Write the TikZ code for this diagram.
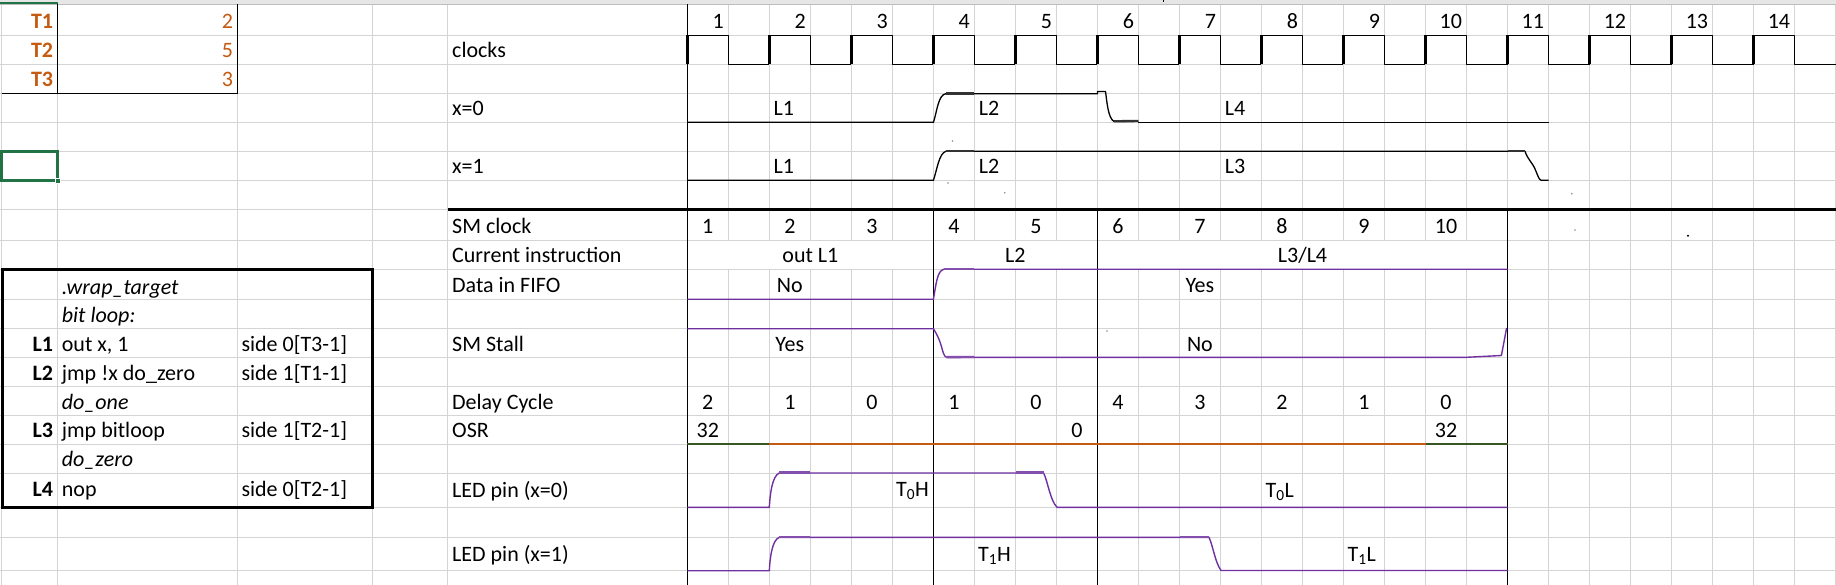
\documentclass[tikz,border=0pt]{standalone}
\usepackage{fontspec}
\setmainfont{Carlito}
\definecolor{gridc}{HTML}{D4D4D4}
\definecolor{hdrc}{HTML}{E6E6E6}
\definecolor{hdrl}{HTML}{BDBDBD}
\definecolor{purp}{HTML}{7030A0}
\definecolor{orng}{HTML}{C55A11}
\definecolor{dgrn}{HTML}{375623}
\definecolor{selg}{HTML}{217346}
\begin{document}
\begin{tikzpicture}[x=1pt,y=-1pt,
  grid/.style={draw=gridc, line width=1pt},
  blk/.style={draw=black, line width=1.2pt},
  wave/.style={draw=black, line width=1.3pt, line join=round},
  wthick/.style={draw=black!80, line width=2.4pt},
  clkrise/.style={draw=black, line width=3pt},
  pwave/.style={draw=purp, line width=1.4pt, line join=round},
  pthick/.style={draw=purp!85, line width=2.4pt},
  txt/.style={inner sep=0pt, font=\fontsize{22}{26}\selectfont},
  lt/.style={txt, anchor=base west},
  rt/.style={txt, anchor=base east},
  ct/.style={txt, anchor=base},
  dot/.style={fill=black!45},
]
\useasboundingbox (0,0) rectangle (1836,585);
\fill[white] (0,0) rectangle (1836,585);

% ---------- gridlines ----------
\foreach \xx in {1.7,57.7,237.7,372.3,447.5}
  \draw[grid] (\xx,4.3) -- (\xx,585);
\foreach \c in {0,...,28}
  \draw[grid] ({687.3+41.01*\c},4.3) -- ({687.3+41.01*\c},585);
\foreach \yy in {35.3,64.3,93.7,122.3,151.3,180.3,210,240.3,269.3,299.3,328.7,357.3,386.3,415.3,444.3,473.3,507.3,537.3,570.7}
  \draw[grid] (0,\yy) -- (1836,\yy);

% header band
\fill[hdrc] (0,0) rectangle (1836,4.3);
\draw[hdrl, line width=1pt] (0,4.3) -- (1836,4.3);
\draw[selg, line width=2pt] (0,3.4) -- (58,3.4);
\draw[black, line width=1pt] (1163,0) -- (1163,2.5);

% merged cells (Current instruction)
\fill[white] (687.9,240.9) rectangle (932.8,268.7);
\fill[white] (934.0,240.9) rectangle (1096.8,268.7);
\fill[white] (1098.0,240.9) rectangle (1506.9,268.7);

% ---------- black borders ----------
\draw[blk] (57.7,4.3) -- (57.7,93.7);
\draw[blk] (237.7,4.3) -- (237.7,93.7);
\draw[blk] (1.7,93.7) -- (237.7,93.7);
\draw[black, line width=2.6pt] (2.3,269.3) rectangle (372.3,507.3);
\draw[blk] (687.3,4.3) -- (687.3,585);
\draw[blk] (933.4,210) -- (933.4,585);
\draw[blk] (1097.4,210) -- (1097.4,585);
\draw[blk] (1507.5,210) -- (1507.5,585);
\draw[black, line width=3pt] (447.5,210) -- (1836,210);

% ---------- clock waveform ----------
\foreach \k in {0,...,13}{
  \draw[wave] ({687.3+82.02*\k},35.3) -- ({728.31+82.02*\k},35.3) -- ({728.31+82.02*\k},64.3) -- ({769.32+82.02*\k},64.3);
  \draw[clkrise] ({687.3+82.02*\k},64.3) -- ({687.3+82.02*\k},35.3);
}

% ---------- x=0 ----------
\draw[wave] (687.3,122.3) -- (933.4,122.3)
  .. controls (937,112) and (938,95) .. (945.8,93.7) -- (1097.4,93.7)
  -- (1097.4,91.5) -- (1105.5,91.5)
  .. controls (1107,102) and (1108,118) .. (1114,121.5) -- (1138.4,121.2);
\draw[wave] (1138.4,122.3) -- (1548.5,122.3);
\draw[wthick] (945.8,93.5) -- (974.4,93.5);
\draw[wthick] (1114,121.3) -- (1138.4,121);

% ---------- x=1 ----------
\draw[wave] (687.3,180.3) -- (933.4,180.3)
  .. controls (937,170) and (939,153) .. (946,151.3) -- (1525,151.3)
  .. controls (1528,160) and (1532,162) .. (1535,169)
  .. controls (1538,176) and (1539,180) .. (1541.3,180.3) -- (1548.5,180.3);
\draw[wthick] (946,151.1) -- (974.4,151.1);
\draw[wthick] (1507.5,151.1) -- (1525,151.1);

% stray dots
\foreach \p in {(952.5,141),(948,183),(1004.7,192.7),(1571.8,193.7),(1107,331),(1575,230)}
  \fill[dot] \p circle (0.9);
\fill[black] (1688,235.7) circle (1.1);

% ---------- purple signals ----------
% Data in FIFO
\draw[pwave] (687.3,299.3) -- (933.4,299.3)
  .. controls (936,285) and (937,271) .. (943.6,269.3) -- (1507.5,269.3);
\draw[pthick] (943.6,269) -- (974.4,269);
% SM Stall
\draw[pwave] (687.3,328.7) -- (933.4,328.7)
  .. controls (936,333) and (939,338) .. (941,345)
  .. controls (943,352) and (944,357) .. (946.7,357.3) -- (1466.5,357.3)
  -- (1501.4,355.5) -- (1506.6,328);
\draw[pthick] (946.7,357.1) -- (974.4,357);
% LED pin x=0
\draw[pwave] (687.3,507.3) -- (769.3,507.3)
  .. controls (770,495) and (772,476) .. (779.3,473.0) -- (1043.6,473.0)
  .. controls (1048,482) and (1050,500) .. (1057,507.3) -- (1507.5,507.3);
\draw[pthick] (779.3,472.6) -- (809.6,472.6);
\draw[pthick] (1015.9,472.6) -- (1043.6,472.6);
% LED pin x=1
\draw[pwave] (687.3,570.7) -- (769.3,570.7)
  .. controls (770,558) and (772,540) .. (779.3,537.3) -- (1209,537.3)
  .. controls (1213,546) and (1215,562) .. (1221,570.5) -- (1507.5,570.5);
\draw[pthick] (779.3,536.9) -- (809.6,536.9);
\draw[pthick] (1179.8,536.9) -- (1209,536.9);

% OSR line
\draw[dgrn, line width=2.2pt] (687.3,444.3) -- (769.3,444.3);
\draw[orng, line width=2.2pt] (769.3,444.3) -- (1425.5,444.3);
\draw[dgrn, line width=2.2pt] (1425.5,444.3) -- (1507.5,444.3);

% ---------- T table ----------
\node[rt, text=orng, font=\fontsize{22}{26}\selectfont\bfseries] (t1) at (53.3,28.7) {T1};
\node[rt, text=orng, font=\fontsize{22}{26}\selectfont\bfseries] (t2) at (53.3,57.5) {T2};
\node[rt, text=orng, font=\fontsize{22}{26}\selectfont\bfseries] (t3) at (53.3,86.3) {T3};
\node[rt, text=orng] (v1) at (233.3,28.7) {2};
\node[rt, text=orng] (v2) at (233.3,57.5) {5};
\node[rt, text=orng] (v3) at (233.3,86.3) {3};

% selected cell
\draw[selg, line width=2.5pt] (1.5,151.3) rectangle (57.7,180.3);
\fill[white] (55.2,177.8) rectangle (61.2,183.8);
\fill[selg] (56,178.6) rectangle (60.4,183);

% ---------- row labels ----------
\node[lt] (lclk) at (452,57.5) {clocks};
\node[lt] (lx0) at (452,115.5) {x=0};
\node[lt] (lx1) at (452,174) {x=1};
\node[lt] (lsm) at (452,234) {SM clock};
\node[lt] (lci) at (452,263) {Current instruction};
\node[lt] (lff) at (452,292.7) {Data in FIFO};
\node[lt] (lst) at (452,351) {SM Stall};
\node[lt] (ldc) at (452,409) {Delay Cycle};
\node[lt] (losr) at (452,437.5) {OSR};
\node[lt] (led0) at (452,497) {LED pin (x=0)};
\node[lt] (led1) at (452,561) {LED pin (x=1)};

% clock numbers
\foreach \k in {1,...,14}
  \node[rt] (cn\k) at ({687.3+41.01*(2*\k-1)-4.3},28.7) {\k};

% waveform labels
\node[lt] (a1) at (773.5,115.5) {L1};
\node[lt] (a2) at (978.6,115.5) {L2};
\node[lt] (a4) at (1224.6,115.5) {L4};
\node[lt] (b1) at (773.5,174) {L1};
\node[lt] (b2) at (978.6,174) {L2};
\node[lt] (b3) at (1224.6,174) {L3};

% SM clock numbers
\foreach \k in {1,...,10}
  \node[ct] (sm\k) at ({687.3+41.01*(2*\k-2)+20.5},234) {\k};
% current instruction
\node[ct] (ci1) at (810.4,263) {out L1};
\node[ct] (ci2) at (1015.4,263) {L2};
\node[ct] (ci3) at (1302.5,263) {L3/L4};
% FIFO / stall
\node[ct] (ffno) at (789.8,292.7) {No};
\node[ct] (ffyes) at (1199.9,292.7) {Yes};
\node[ct] (styes) at (789.8,351) {Yes};
\node[ct] (stno) at (1199.9,351) {No};
% delay cycle
\foreach \v [count=\i] in {2,1,0,1,0,4,3,2,1,0}
  \node[ct] (dc\i) at ({687.3+41.01*(2*\i-2)+20.5},409) {\v};
% OSR
\node[ct] (o1) at (707.8,437.5) {32};
\node[ct] (o2) at (1076.9,437.5) {0};
\node[ct] (o3) at (1446,437.5) {32};
% LED labels
\node[lt] (t0h) at (896,496.5) {T\textsubscript{0}H};
\node[lt] (t0l) at (1265.4,497) {T\textsubscript{0}L};
\node[lt] (t1h) at (978,561.5) {T\textsubscript{1}H};
\node[lt] (t1l) at (1347.4,561.5) {T\textsubscript{1}L};

% ---------- code table ----------
\node[lt, font=\fontsize{22}{26}\selectfont\itshape] (c1) at (61.7,294.3) {.wrap\_target};
\node[lt, font=\fontsize{22}{26}\selectfont\itshape] (c2) at (61.7,322.7) {bit loop:};
\node[rt, font=\fontsize{22}{26}\selectfont\bfseries] (n1) at (53.3,351.7) {L1};
\node[lt] (c3) at (61.7,351.7) {out x, 1};
\node[lt] (s1) at (241.3,351.7) {side 0[T3-1]};
\node[rt, font=\fontsize{22}{26}\selectfont\bfseries] (n2) at (53.3,380.3) {L2};
\node[lt] (c4) at (61.7,380.3) {jmp !x do\_zero};
\node[lt] (s2) at (241.3,380.3) {side 1[T1-1]};
\node[lt, font=\fontsize{22}{26}\selectfont\itshape] (c5) at (61.7,409.3) {do\_one};
\node[rt, font=\fontsize{22}{26}\selectfont\bfseries] (n3) at (53.3,437) {L3};
\node[lt] (c6) at (61.7,437) {jmp bitloop};
\node[lt] (s3) at (241.3,437) {side 1[T2-1]};
\node[lt, font=\fontsize{22}{26}\selectfont\itshape] (c7) at (61.7,466.7) {do\_zero};
\node[rt, font=\fontsize{22}{26}\selectfont\bfseries] (n4) at (53.3,496) {L4};
\node[lt] (c8) at (61.7,496) {nop};
\node[lt] (s4) at (241.3,496) {side 0[T2-1]};
\end{tikzpicture}
\end{document}
